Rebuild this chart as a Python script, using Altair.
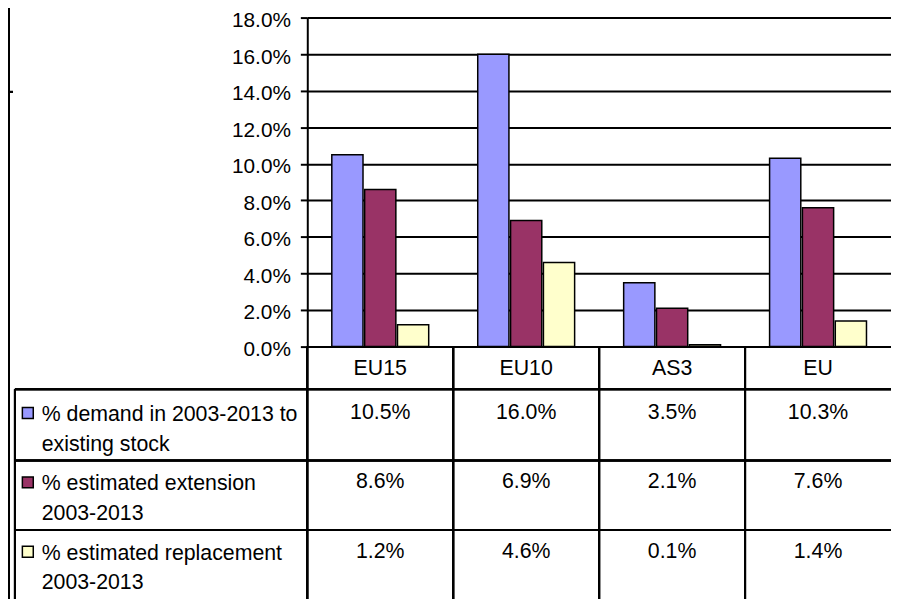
import altair as alt
import pandas as pd

categories = ["EU15", "EU10", "AS3", "EU"]
series = [
    "% demand in 2003-2013 to existing stock",
    "% estimated extension 2003-2013",
    "% estimated replacement 2003-2013",
]
series_labels = [
    "% demand in 2003-2013 to\nexisting stock",
    "% estimated extension\n2003-2013",
    "% estimated replacement\n2003-2013",
]
demand = [0.105, 0.160, 0.035, 0.103]
extension = [0.086, 0.069, 0.021, 0.076]
replacement = [0.012, 0.046, 0.001, 0.014]
colors = ["#9999FF", "#993366", "#FFFFCC"]
y_ticks = [0.0, 0.02, 0.04, 0.06, 0.08, 0.10, 0.12, 0.14, 0.16, 0.18]

rows = []
for s, vals in zip(series, [demand, extension, replacement]):
    for c, v in zip(categories, vals):
        rows.append({"category": c, "series": s, "value": v})
df = pd.DataFrame(rows)
legend_df = pd.DataFrame({"series": series, "label": series_labels})
cat_df = pd.DataFrame({"category": categories})

FONT = "Liberation Sans"
FS = 21.5
W, H = 589, 332
STEP = W / 4

x_scale = alt.Scale(domain=categories, paddingInner=0.336, paddingOuter=0.168)
color_scale = alt.Scale(domain=series, range=colors)

bars = alt.Chart(df).mark_bar(stroke="black", strokeWidth=1.5).encode(
    x=alt.X("category:N", sort=categories, scale=x_scale, axis=None),
    xOffset=alt.XOffset("series:N", sort=series, scale=alt.Scale(paddingInner=0.05)),
    y=alt.Y(
        "value:Q",
        scale=alt.Scale(domain=[0, 0.18], nice=False),
        axis=alt.Axis(
            values=y_ticks, format=".1%", title=None, grid=True,
            gridColor="black", gridWidth=2, domainColor="black", domainWidth=2,
            tickColor="black", tickWidth=2, tickSize=7, labelPadding=10,
            labelFont=FONT, labelFontSize=21, labelColor="black",
            labelOverlap=False, labelBaseline="alphabetic", labelOffset=9,
        ),
    ),
    color=alt.Color("series:N", scale=color_scale, legend=None),
)

layers = [bars]

def rule(x, x2, y, y2, sw=2):
    return alt.Chart(cat_df).mark_rule(color="black", strokeWidth=sw).encode(
        x=alt.value(x), x2=alt.value(x2), y=alt.value(y), y2=alt.value(y2)
    )

# table structure
BOTTOM = 600
for yy in [375, 447, 517]:
    layers.append(rule(-295, W + 5, yy, yy))
for i in range(4):
    layers.append(rule(i * STEP, i * STEP, H, BOTTOM))
layers.append(rule(-295, -295, 375, BOTTOM))
layers.append(rule(-301, -301, -10, BOTTOM))
layers.append(rule(-302, -297, 75, 75))

# category labels
layers.append(
    alt.Chart(cat_df).mark_text(font=FONT, fontSize=FS, color="black", baseline="alphabetic").encode(
        x=alt.X("category:N", sort=categories, scale=x_scale, axis=None),
        y=alt.value(361),
        text="category:N",
    )
)

value_y = [405, 475, 545]
legend_y = [407, 477, 547]
square_y = [399, 469, 539]
for i, s in enumerate(series):
    layers.append(
        alt.Chart(df).transform_filter(alt.datum.series == s)
        .mark_text(font=FONT, fontSize=FS, color="black", baseline="alphabetic")
        .encode(
            x=alt.X("category:N", sort=categories, scale=x_scale, axis=None),
            y=alt.value(value_y[i]),
            text=alt.Text("value:Q", format=".1%"),
        )
    )
    sub = legend_df[legend_df["series"] == s]
    layers.append(
        alt.Chart(sub).mark_text(font=FONT, fontSize=FS, color="black", align="left",
                                 baseline="alphabetic", lineBreak="\n", lineHeight=30)
        .encode(x=alt.value(-268), y=alt.value(legend_y[i]), text="label:N")
    )
    layers.append(
        alt.Chart(sub).mark_point(shape="square", size=121, filled=True, stroke="black",
                                  strokeWidth=1.5, opacity=1)
        .encode(x=alt.value(-282), y=alt.value(square_y[i]),
                color=alt.Color("series:N", scale=color_scale, legend=None))
    )

chart = alt.layer(*layers).properties(
    width=W, height=H,
    autosize=alt.AutoSizeParams(type="none"),
    padding={"left": 302, "top": 7, "right": 0, "bottom": 252},
    background="white",
).configure_view(strokeWidth=0)

chart.save("out.html", embed_options={"renderer": "svg", "actions": False})
